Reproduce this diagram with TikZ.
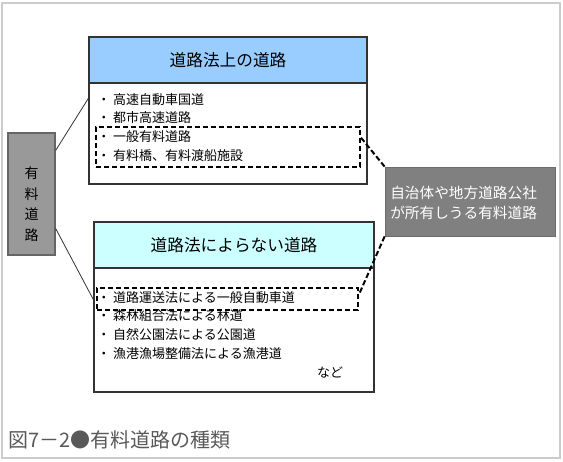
\documentclass[tikz,border=0pt]{standalone}
\usepackage{fontspec}
\setmainfont{Noto Sans CJK JP}
\usetikzlibrary{positioning, calc}
\definecolor{SkyHead}{HTML}{99CCFF}
\definecolor{MintHead}{HTML}{CCFFFF}
\definecolor{SlateBox}{HTML}{999999}
\definecolor{AshBox}{HTML}{808080}
\definecolor{FrameGrey}{HTML}{CCCCCC}
\definecolor{CaptionGrey}{HTML}{595959}
\definecolor{EdgeInk}{HTML}{333333}
\newcommand{\ListFont}{\fontsize{9.75pt}{14pt}\selectfont}
\newcommand{\HeadFont}{\fontsize{12.5pt}{14pt}\selectfont}

\tikzset{
  roadbox/.style={draw=EdgeInk, line width=0.9pt, fill=white},
  headbox/.style={draw=EdgeInk, line width=0.9pt, font=\HeadFont, text=black},
  dashbox/.style={draw=black, line width=1.5pt, dash pattern=on 4pt off 2pt},
  listtext/.style={anchor=north west, inner sep=0pt, align=left, font=\ListFont},
  link/.style={draw=EdgeInk, line width=0.6pt},
  dashlink/.style={draw=black, line width=1.5pt, dash pattern=on 4pt off 2pt}
}

\begin{document}
\begin{tikzpicture}[x=0.75pt, y=-0.75pt]
  \useasboundingbox (0,0) rectangle (563,461);
  \draw[FrameGrey, line width=1.5pt] (2,3) rectangle (560,458);
  % upper block: roads under the road law
  \node[roadbox, minimum width=208.5pt, minimum height=110.25pt] (upper) at (228,110.5) {};
  \node[headbox, fill=SkyHead, minimum width=208.5pt, minimum height=34.5pt] (upperhead) at (228,60) {道路法上の道路};
  \node[listtext] (upperlist) at (97,93)
    {・ 高速自動車国道\\・ 都市高速道路\\・ 一般有料道路\\・ 有料橋、有料渡船施設};
  \node[dashbox, minimum width=198pt, minimum height=30pt] (upperdash) at (228,147) {};
  % lower block: roads outside the road law
  \node[roadbox, minimum width=210pt, minimum height=127.5pt] (lower) at (234,307) {};
  \node[headbox, fill=MintHead, minimum width=210pt, minimum height=34.5pt] (lowerhead) at (234,245) {道路法によらない道路};
  \node[listtext] (lowerlist) at (97,291)
    {・ 道路運送法による一般自動車道\\・ 森林組合法による林道\\・ 自然公園法による公園道\\・ 漁港漁場整備法による漁港道};
  \node[font=\ListFont, inner sep=0pt] (etc) at (330,373) {など};
  \node[dashbox, minimum width=195.75pt, minimum height=16.5pt] (lowerdash) at (227.5,299) {};
  % left tag
  \node[draw=black!60, fill=SlateBox, line width=0.9pt, minimum width=35.25pt, minimum height=91.5pt] (toll) at (31.5,194) {};
  \node[align=center, font=\fontsize{10.5pt}{15.4pt}\selectfont, inner sep=0pt] (tolltext) at (31.5,204) {有\\料\\道\\路};
  % right note
  \node[draw=AshBox!85!black, fill=AshBox, line width=0.6pt, minimum width=127.5pt, minimum height=51.75pt] (owner) at (470,201.5) {};
  \node[text=white, align=left, anchor=west, inner sep=0pt, font=\fontsize{11pt}{15pt}\selectfont] (ownertext) at (390,203)
    {自治体や地方道路公社\\が所有しうる有料道路};
  % connectors
  \draw[link] (toll.61) -- (upper.175);
  \draw[link] (toll.-55) -- (lower.177);
  \draw[dashlink] (upperdash.4) -- (owner.north west);
  \draw[dashlink] (owner.south west) -- (lowerdash.2.5);
  % caption
  \node[anchor=west, text=CaptionGrey, font=\fontsize{15pt}{17pt}\selectfont, inner sep=0pt] (caption) at (8,440) {図7－2●有料道路の種類};
\end{tikzpicture}
\end{document}
